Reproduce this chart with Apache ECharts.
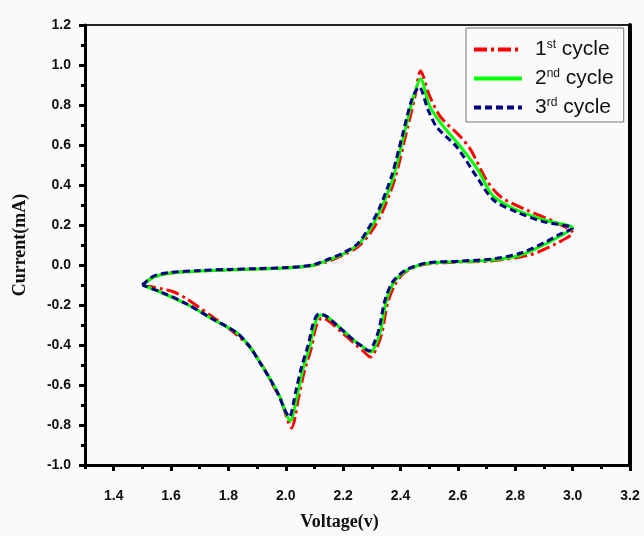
<!DOCTYPE html>
<html>
<head>
<meta charset="utf-8">
<script src="https://cdn.jsdelivr.net/npm/echarts@6/dist/echarts.min.js"></script>
<style>
  html, body { margin: 0; padding: 0; background: #fafafa; }
  #cvChart { width: 644px; height: 536px; }
</style>
</head>
<body>
<div id="cvChart"></div>
<script>
// tick labels
const xMajorTicks = [1.4, 1.6, 1.8, 2.0, 2.2, 2.4, 2.6, 2.8, 3.0, 3.2]
const xMinorTicks = [1.3, 1.5, 1.7, 1.9, 2.1, 2.3, 2.5, 2.7, 2.9, 3.1]

// 1st cycle (anodic sweep 1.5 -> 3.0, then back to 1.5)
const cycle1V = [1.50, 1.54, 1.60, 1.70, 1.80, 1.90, 2.00, 2.05, 2.10, 2.15, 2.20, 2.25, 2.295, 2.335, 2.38, 2.415, 2.45, 2.47, 2.50, 2.54, 2.61, 2.645, 2.70, 2.75, 2.84, 2.945, 3.00,
  2.96, 2.945, 2.85, 2.71, 2.61, 2.49, 2.435, 2.405, 2.38, 2.355, 2.335, 2.315, 2.295, 2.27, 2.245, 2.19, 2.145, 2.125, 2.105, 2.09, 2.065, 2.045, 2.02, 2.005, 1.985, 1.955, 1.925, 1.88, 1.83, 1.75, 1.655, 1.61, 1.57, 1.50]
const cycle1I = [-0.10, -0.06, -0.04, -0.03, -0.025, -0.02, -0.015, -0.01, 0.00, 0.02, 0.05, 0.09, 0.16, 0.26, 0.43, 0.63, 0.84, 0.97, 0.85, 0.74, 0.64, 0.575, 0.425, 0.34, 0.275, 0.21, 0.16,
  0.12, 0.108, 0.05, 0.02, 0.015, 0.005, -0.02, -0.05, -0.10, -0.19, -0.34, -0.42, -0.46, -0.43, -0.40, -0.33, -0.275, -0.265, -0.31, -0.41, -0.53, -0.66, -0.815, -0.77, -0.68, -0.60, -0.52, -0.42, -0.35, -0.265, -0.17, -0.135, -0.12, -0.10]

// 2nd cycle
const cycle2V = [1.50, 1.54, 1.60, 1.70, 1.80, 1.90, 2.00, 2.05, 2.10, 2.15, 2.20, 2.25, 2.29, 2.33, 2.375, 2.41, 2.445, 2.47, 2.50, 2.54, 2.61, 2.67, 2.72, 2.79, 2.90, 3.00,
  2.95, 2.91, 2.82, 2.72, 2.61, 2.49, 2.43, 2.40, 2.375, 2.35, 2.33, 2.31, 2.295, 2.27, 2.245, 2.19, 2.145, 2.12, 2.10, 2.085, 2.06, 2.04, 2.015, 2.00, 1.98, 1.95, 1.92, 1.875, 1.83, 1.75, 1.66, 1.57, 1.50]
const cycle2I = [-0.10, -0.06, -0.04, -0.03, -0.025, -0.02, -0.015, -0.01, 0.00, 0.025, 0.055, 0.10, 0.17, 0.275, 0.44, 0.64, 0.84, 0.93, 0.80, 0.71, 0.59, 0.475, 0.35, 0.285, 0.225, 0.185,
  0.14, 0.108, 0.05, 0.025, 0.017, 0.008, -0.02, -0.05, -0.09, -0.18, -0.33, -0.41, -0.435, -0.41, -0.385, -0.315, -0.26, -0.25, -0.30, -0.40, -0.52, -0.65, -0.78, -0.74, -0.66, -0.58, -0.51, -0.41, -0.34, -0.275, -0.20, -0.14, -0.10]

// 3rd cycle
const cycle3V = [1.50, 1.54, 1.60, 1.70, 1.80, 1.90, 2.00, 2.05, 2.10, 2.15, 2.20, 2.25, 2.285, 2.325, 2.37, 2.405, 2.44, 2.465, 2.495, 2.526, 2.596, 2.666, 2.724, 2.805, 2.897, 3.00,
  2.95, 2.91, 2.82, 2.72, 2.61, 2.49, 2.425, 2.395, 2.37, 2.345, 2.325, 2.305, 2.29, 2.265, 2.24, 2.185, 2.14, 2.115, 2.095, 2.08, 2.055, 2.035, 2.012, 1.995, 1.975, 1.945, 1.915, 1.87, 1.825, 1.745, 1.655, 1.565, 1.50]
const cycle3I = [-0.10, -0.055, -0.037, -0.028, -0.022, -0.018, -0.013, -0.008, 0.003, 0.03, 0.06, 0.105, 0.175, 0.28, 0.45, 0.64, 0.83, 0.89, 0.78, 0.69, 0.59, 0.44, 0.325, 0.265, 0.217, 0.185,
  0.15, 0.118, 0.06, 0.03, 0.02, 0.01, -0.02, -0.05, -0.09, -0.18, -0.32, -0.40, -0.43, -0.405, -0.38, -0.31, -0.255, -0.245, -0.295, -0.39, -0.51, -0.63, -0.76, -0.72, -0.65, -0.57, -0.50, -0.40, -0.335, -0.27, -0.195, -0.135, -0.10]

function zipPoints(vs, is) {
  return vs.map((v, i) => [v, is[i]])
}

let cvChart = echarts.init(document.getElementById('cvChart'))
let option = {
  backgroundColor: '#fafafa',
  animation: false,
  grid: {
    left: 85,
    right: 14,
    top: 25,
    bottom: 71,
    show: true,
    backgroundColor: '#fafafa',
    borderColor: '#222',
    borderWidth: 2
  },
  legend: {
    orient: 'vertical',
    left: 466,
    top: 28,
    width: 156,
    padding: [11, 10, 4, 6],
    borderColor: '#777',
    borderWidth: 1,
    backgroundColor: '#fafafa',
    itemWidth: 48,
    itemHeight: 14,
    itemGap: 8,
    itemStyle: { opacity: 0 },
    lineStyle: { opacity: 1, width: 4 },
    textStyle: {
      color: '#111',
      fontFamily: 'Liberation Sans',
      fontSize: 21,
      rich: {
        f: { fontSize: 21, fontFamily: 'Liberation Sans', color: '#111', padding: [0, 0, 0, 8] },
        n: { fontSize: 21, fontFamily: 'Liberation Sans', color: '#111' },
        s: { fontSize: 12, fontFamily: 'Liberation Sans', color: '#111', verticalAlign: 'top', padding: [0, 0, 9, 0] }
      }
    },
    formatter: function (name) {
      const parts = name.split(' ')
      return '{f|' + parts[0] + '}{s|' + parts[1] + '}{n| ' + parts[2] + '}'
    },
    data: ['1 st cycle', '2 nd cycle', '3 rd cycle']
  },
  xAxis: [
    {
      type: 'value',
      min: 1.3,
      max: 3.2,
      splitLine: { show: false },
      axisLine: { onZero: false, lineStyle: { color: '#000', width: 3 } },
      axisTick: { show: true, inside: false, length: 6, lineStyle: { color: '#000', width: 3 }, customValues: xMajorTicks },
      axisLabel: {
        customValues: xMajorTicks,
        margin: 24,
        color: '#111',
        fontFamily: 'Liberation Sans',
        fontWeight: 'bold',
        fontSize: 14,
        formatter: v => v.toFixed(1)
      },
      name: 'Voltage(v)',
      nameLocation: 'middle',
      nameGap: 48,
      nameTextStyle: {
        color: '#111',
        fontFamily: 'Liberation Serif',
        fontWeight: 'bold',
        fontSize: 18,
        padding: [0, 36, 0, 0]
      }
    },
    {
      type: 'value',
      position: 'bottom',
      min: 1.3,
      max: 3.2,
      splitLine: { show: false },
      axisLine: { show: false, onZero: false },
      axisTick: { show: true, length: 4, lineStyle: { color: '#000', width: 3 }, customValues: xMinorTicks },
      axisLabel: { show: false }
    }
  ],
  yAxis: [
    {
      type: 'value',
      min: -1.0,
      max: 1.2,
      interval: 0.2,
      splitLine: { show: false },
      axisLine: { onZero: false, lineStyle: { color: '#000', width: 3 } },
      axisTick: { length: 6, lineStyle: { color: '#000', width: 3 } },
      minorTick: { show: true, splitNumber: 2, length: 4, lineStyle: { color: '#000', width: 3 } },
      axisLabel: {
        margin: 14,
        color: '#111',
        fontFamily: 'Liberation Sans',
        fontWeight: 'bold',
        fontSize: 14,
        formatter: v => v.toFixed(1)
      },
      name: 'Current(mA)',
      nameLocation: 'middle',
      nameGap: 56,
      nameTextStyle: {
        color: '#111',
        fontFamily: 'Liberation Serif',
        fontWeight: 'bold',
        fontSize: 18
      }
    },
    {
      type: 'value',
      position: 'right',
      min: -1.0,
      max: 1.2,
      splitLine: { show: false },
      axisLine: { show: true, onZero: false, lineStyle: { color: '#000', width: 4 } },
      axisTick: { show: false },
      axisLabel: { show: false }
    }
  ],
  series: [
    {
      name: '1 st cycle',
      type: 'line',
      smooth: 0.3,
      showSymbol: false,
      symbol: 'none',
      lineStyle: { color: '#ff0000', width: 3, type: [13, 4, 3, 4] },
      itemStyle: { color: '#ff0000' },
      data: zipPoints(cycle1V, cycle1I)
    },
    {
      name: '2 nd cycle',
      type: 'line',
      smooth: 0.3,
      showSymbol: false,
      symbol: 'none',
      lineStyle: { color: '#00ff00', width: 3, type: 'solid' },
      itemStyle: { color: '#00ff00' },
      data: zipPoints(cycle2V, cycle2I)
    },
    {
      name: '3 rd cycle',
      type: 'line',
      smooth: 0.3,
      showSymbol: false,
      symbol: 'none',
      lineStyle: { color: '#000080', width: 3, type: [7, 4] },
      itemStyle: { color: '#000080' },
      data: zipPoints(cycle3V, cycle3I)
    }
  ]
}

option && cvChart.setOption(option)
window.addEventListener('resize', function () {
  cvChart.resize()
})
</script>
</body>
</html>
